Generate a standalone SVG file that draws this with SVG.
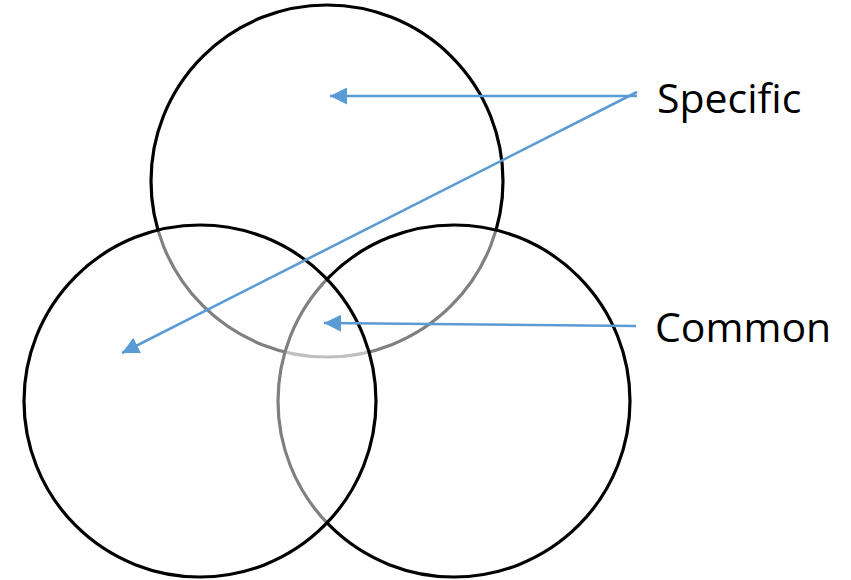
<svg xmlns="http://www.w3.org/2000/svg" width="851" height="580" viewBox="0 0 851 580">
  <style>
    .ring { fill: #ffffff; fill-opacity: 0.5; stroke: #000000; stroke-width: 3.2; }
    .link { fill: none; stroke: #5b9bd5; stroke-width: 2.6; }
    .label { font-family: "Open Sans", "Noto Sans", sans-serif; font-size: 41px; fill: #000000; }
  </style>
  <defs>
    <marker id="arrow" markerUnits="userSpaceOnUse" markerWidth="18" markerHeight="17" refX="17" refY="8.5" orient="auto">
      <path d="M0,0 L17,8.5 L0,17 Z" fill="#5b9bd5"/>
    </marker>
  </defs>
  <rect width="851" height="580" fill="#ffffff"/>

  <!-- circles, stacked so the translucent fills fade the outlines beneath them -->
  <g id="circle-top">
    <circle class="ring" cx="327" cy="181" r="176"/>
  </g>
  <g id="circle-right">
    <circle class="ring" cx="454" cy="401" r="176"/>
  </g>
  <g id="circle-left">
    <circle class="ring" cx="200" cy="401" r="176"/>
  </g>

  <!-- pointers from the labels into the regions -->
  <g id="connectors">
    <line class="link" x1="637" y1="96" x2="330" y2="96" marker-end="url(#arrow)"/>
    <line class="link" x1="637" y1="92" x2="122" y2="353" marker-end="url(#arrow)"/>
    <line class="link" x1="636" y1="326" x2="324" y2="323" marker-end="url(#arrow)"/>
  </g>

  <g id="label-specific">
    <text class="label" x="657" y="113">Specific</text>
  </g>
  <g id="label-common">
    <text class="label" x="655" y="342">Common</text>
  </g>
</svg>
